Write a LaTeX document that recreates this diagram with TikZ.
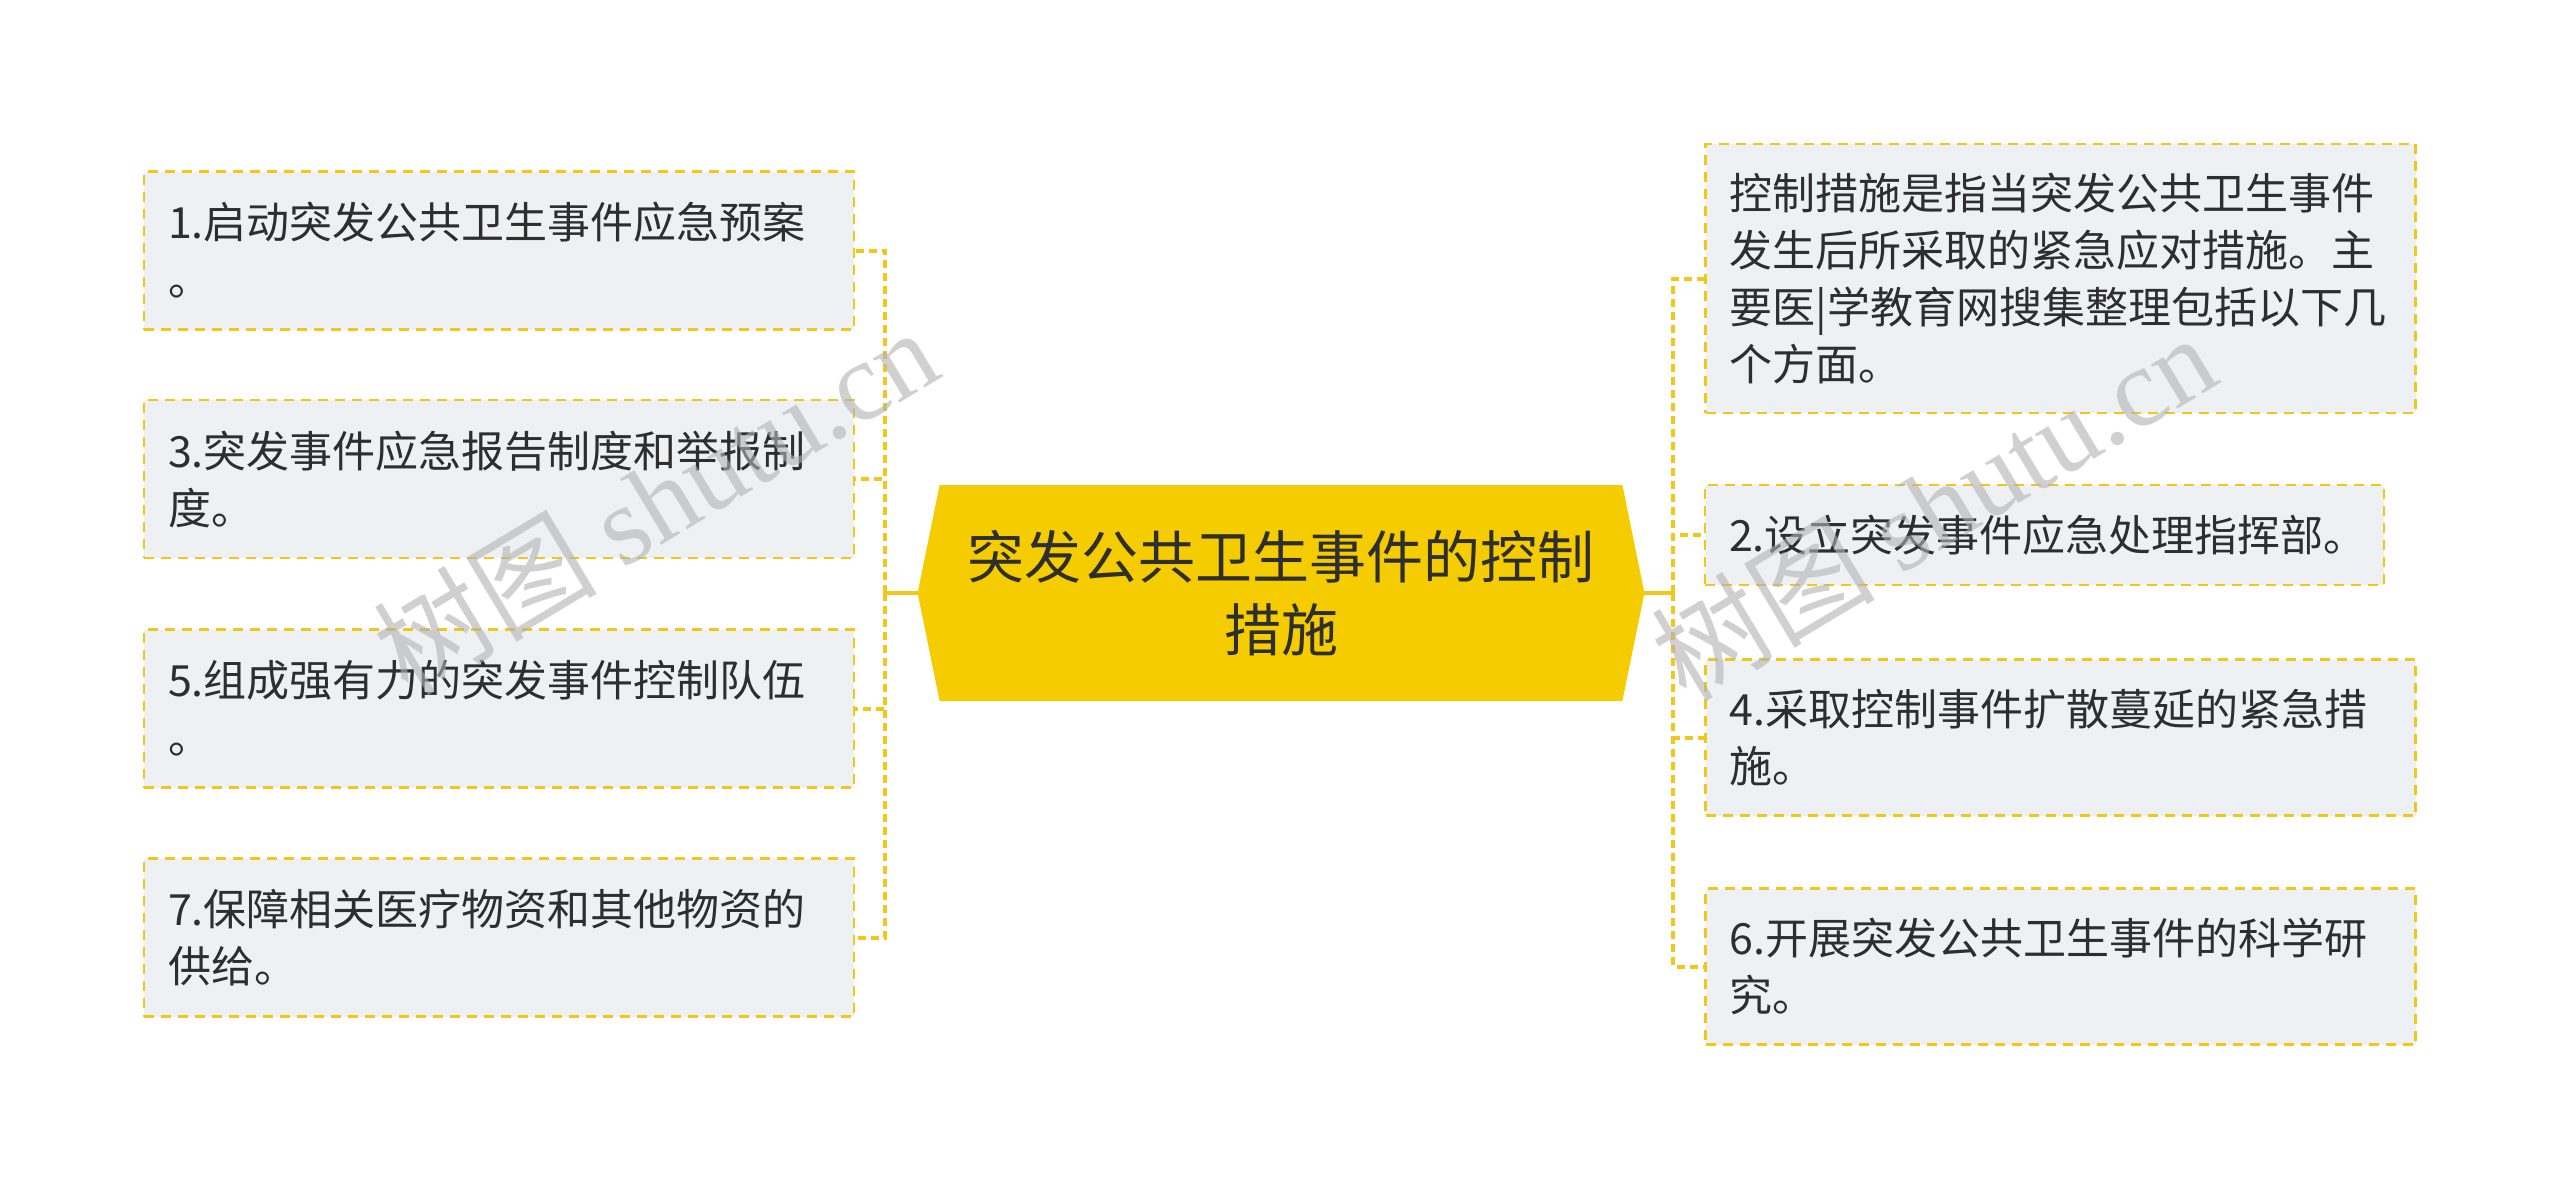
\documentclass[tikz,border=0pt]{standalone}
\usepackage{fontspec}
\setmainfont{Noto Sans CJK SC}
\newfontfamily\cjkwm{Noto Sans CJK SC}
\newfontfamily\wmserif{Liberation Serif}
\usetikzlibrary{backgrounds}
\definecolor{boxfill}{HTML}{EEF1F4}
\definecolor{dashy}{HTML}{F2C719}
\definecolor{rootfill}{HTML}{F5CC00}
\definecolor{txt}{HTML}{2E2E2E}
\tikzset{
  leaf/.style={draw=dashy, fill=boxfill, line width=1.2pt, dash pattern=on 5pt off 3.5pt,
    minimum width=355pt, minimum height=#1, text width=331pt, inner xsep=12pt, inner ysep=0pt,
    align=left, font=\fontsize{21.5pt}{28.5pt}\selectfont, text=txt},
  rootnode/.style={minimum width=341pt, minimum height=107.5pt, inner sep=0pt, align=center,
    font=\fontsize{28.5pt}{36.5pt}\selectfont, text=txt},
  link/.style={draw=dashy, line width=2pt, dash pattern=on 4pt off 2.5pt},
  rootlink/.style={draw=dashy, line width=2pt},
  wm/.style={text=gray!60, opacity=0.6, font=\fontsize{56pt}{60pt}\selectfont, inner sep=0pt}
}
\begin{document}
\begin{tikzpicture}[x=0.5pt,y=-0.5pt]
\useasboundingbox (0,0) rectangle (2560,1189);

% root
\node[rootnode] (root) at (1281,593) {突发公共卫生事件的控制\\措施};
\begin{scope}[on background layer]
\fill[white] (0,0) rectangle (2560,1189);
\fill[rootfill] (root.north west) -- (root.north east) -- ([xshift=11pt]root.east)
  -- (root.south east) -- (root.south west) -- ([xshift=-11pt]root.west) -- cycle;
\end{scope}
\coordinate (rootL) at ([xshift=-11pt]root.west);
\coordinate (rootR) at ([xshift=11pt]root.east);

% left leaves
\node[leaf=79pt] (l1) at (499,250.5) {1.启动突发公共卫生事件应急预案\\。};
\node[leaf=79pt] (l3) at (499,479) {3.突发事件应急报告制度和举报制\\度。};
\node[leaf=79pt] (l5) at (499,708.5) {5.组成强有力的突发事件控制队伍\\。};
\node[leaf=79pt] (l7) at (499,937.5) {7.保障相关医疗物资和其他物资的\\供给。};

% right leaves
\node[leaf=134.5pt] (r0) at (2060.5,278.5) {控制措施是指当突发公共卫生事件\\发生后所采取的紧急应对措施。主\\要医|学教育网搜集整理包括以下几\\个方面。};
\node[leaf=50pt, minimum width=339.5pt, text width=315.5pt] (r2) at (2044.5,535) {2.设立突发事件应急处理指挥部。};
\node[leaf=78pt] (r4) at (2060.5,737.5) {4.采取控制事件扩散蔓延的紧急措\\施。};
\node[leaf=78pt] (r6) at (2060.5,966.5) {6.开展突发公共卫生事件的科学研\\究。};

% connectors
\coordinate (lj) at (885,593);
\coordinate (rj) at (1673,593);
\draw[rootlink] (rootL) -- (lj);
\draw[rootlink] (rootR) -- (rj);
\draw[link] (lj) |- (l1.east);
\draw[link] (lj) |- (l3.east);
\draw[link] (lj) |- (l5.east);
\draw[link] (lj) |- (l7.east);
\draw[link] (rj) |- (r0.west);
\draw[link] (rj) |- (r2.west);
\draw[link] (rj) |- (r4.west);
\draw[link] (rj) |- (r6.west);

% watermarks
\node[wm, rotate=31] (wm1) at (655,500) {{\cjkwm 树图} {\wmserif shutu.cn}};
\node[wm, rotate=31] (wm2) at (1933,506) {{\cjkwm 树图} {\wmserif shutu.cn}};
\end{tikzpicture}
\end{document}
